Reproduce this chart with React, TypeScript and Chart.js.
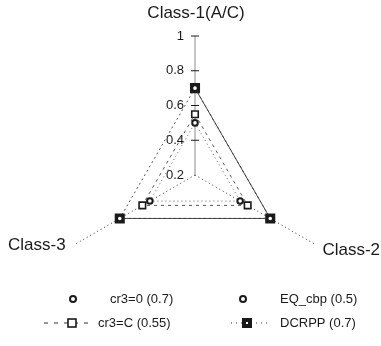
import React, { useEffect, useRef } from 'react';
import { Chart, registerables } from 'chart.js';

Chart.register(...registerables);

const categories = ['Class-1(A/C)', 'Class-2', 'Class-3'];
const cr3Zero = [0.7, 0.7, 0.7];
const eqCbp = [0.5, 0.5, 0.5];
const cr3C = [0.55, 0.55, 0.55];
const dcrpp = [0.7, 0.7, 0.7];
const seriesNames = ['cr3=0 (0.7)', 'EQ_cbp (0.5)', 'cr3=C (0.55)', 'DCRPP (0.7)'];
const tickValues = [0.2, 0.4, 0.6, 0.8, 1];
const tickLabels = ['0.2', '0.4', '0.6', '0.8', '1'];

const FONT = '"Liberation Sans", Arial, Helvetica, sans-serif';
const INK = '#1a1a1a';
const LINE = '#333';

const decorPlugin = {
  id: 'decor',
  beforeDatasetsDraw(chart: any) {
    const ctx = chart.ctx;
    const scale = chart.scales.r;
    ctx.save();
    ctx.strokeStyle = INK;
    ctx.lineWidth = 1;
    ctx.fillStyle = INK;
    ctx.font = `13px ${FONT}`;
    ctx.textAlign = 'right';
    ctx.textBaseline = 'middle';
    tickValues.forEach((v, i) => {
      const p = scale.getPointPositionForValue(0, v);
      if (i > 0) {
        ctx.beginPath();
        ctx.moveTo(p.x - 4, p.y);
        ctx.lineTo(p.x + 4, p.y);
        ctx.stroke();
      }
      ctx.fillText(tickLabels[i], p.x - 11, p.y);
    });
    ctx.font = `17px ${FONT}`;
    const p0 = scale.getPointPositionForValue(0, 1);
    ctx.textAlign = 'center';
    ctx.fillText(categories[0], p0.x + 1, p0.y - 23);
    const p1 = scale.getPointPositionForValue(1, 1);
    ctx.textAlign = 'left';
    ctx.fillText(categories[1], p1.x + 7, p1.y + 6);
    const p2 = scale.getPointPositionForValue(2, 1);
    ctx.textAlign = 'right';
    ctx.fillText(categories[2], p2.x - 9, p2.y + 1);
    ctx.restore();
  },
  beforeDatasetDraw(chart: any, args: any) {
    // cr3=0: open polyline (Class-1 -> Class-2 -> Class-3), no closing side
    if (args.index !== 0) return;
    const pts = chart.getDatasetMeta(0).data;
    const ctx = chart.ctx;
    ctx.save();
    ctx.strokeStyle = LINE;
    ctx.lineWidth = 0.9;
    ctx.beginPath();
    pts.forEach((p: any, i: number) => (i === 0 ? ctx.moveTo(p.x, p.y) : ctx.lineTo(p.x, p.y)));
    ctx.stroke();
    ctx.restore();
  },
  afterDraw(chart: any) {
    const ctx = chart.ctx;
    ctx.save();
    ctx.fillStyle = INK;
    ctx.strokeStyle = INK;
    ctx.font = `13px ${FONT}`;
    ctx.textAlign = 'left';
    ctx.textBaseline = 'middle';
    const y1 = 299;
    const y2 = 323;
    const circle = (x: number, y: number) => {
      ctx.beginPath();
      ctx.lineWidth = 2;
      ctx.fillStyle = '#fff';
      ctx.arc(x, y, 3, 0, Math.PI * 2);
      ctx.fill();
      ctx.stroke();
      ctx.fillStyle = INK;
    };
    circle(73, y1);
    ctx.fillText(seriesNames[0], 110, y1);
    circle(243, y1);
    ctx.fillText(seriesNames[1], 280, y1);
    ctx.lineWidth = 1;
    ctx.strokeStyle = LINE;
    ctx.setLineDash([4, 6]);
    ctx.beginPath();
    ctx.moveTo(44, y2);
    ctx.lineTo(93, y2);
    ctx.stroke();
    ctx.setLineDash([]);
    ctx.strokeStyle = INK;
    ctx.lineWidth = 1.6;
    ctx.fillStyle = '#fff';
    ctx.fillRect(68, y2 - 4, 8, 8);
    ctx.strokeRect(68, y2 - 4, 8, 8);
    ctx.fillStyle = INK;
    ctx.fillText(seriesNames[2], 98, y2);
    ctx.lineWidth = 1;
    ctx.strokeStyle = LINE;
    ctx.setLineDash([1, 4]);
    ctx.beginPath();
    ctx.moveTo(231, y2);
    ctx.lineTo(270, y2);
    ctx.stroke();
    ctx.setLineDash([]);
    ctx.fillStyle = INK;
    ctx.fillRect(242, y2 - 5, 10, 10);
    ctx.fillStyle = '#fff';
    ctx.fillRect(246, y2 - 1, 2, 2);
    ctx.fillStyle = INK;
    ctx.fillText(seriesNames[3], 280, y2);
    ctx.restore();
  },
};

export default function App() {
  const ref = useRef<HTMLCanvasElement | null>(null);
  useEffect(() => {
    if (!ref.current) return;
    const chart = new Chart(ref.current, {
      type: 'radar',
      data: {
        labels: categories,
        datasets: [
          {
            label: seriesNames[0],
            data: cr3Zero,
            showLine: false,
            borderColor: LINE,
            borderWidth: 0,
            backgroundColor: 'transparent',
            fill: false,
            pointStyle: 'circle',
            pointRadius: 2.8,
            pointBorderWidth: 2,
            pointBorderColor: INK,
            pointBackgroundColor: '#fff',
          },
          {
            label: seriesNames[1],
            data: eqCbp,
            borderColor: '#555',
            borderWidth: 0.9,
            borderDash: [1, 3],
            backgroundColor: 'transparent',
            fill: false,
            pointStyle: 'circle',
            pointRadius: 2.8,
            pointBorderWidth: 2,
            pointBorderColor: INK,
            pointBackgroundColor: '#fff',
          },
          {
            label: seriesNames[2],
            data: cr3C,
            borderColor: '#444',
            borderWidth: 0.9,
            borderDash: [3, 4],
            backgroundColor: 'transparent',
            fill: false,
            pointStyle: 'rect',
            pointRadius: 4.6,
            pointBorderWidth: 1.6,
            pointBorderColor: INK,
            pointBackgroundColor: '#fff',
          },
          {
            label: seriesNames[3],
            data: dcrpp,
            borderColor: '#555',
            borderWidth: 1,
            borderDash: [2, 3],
            backgroundColor: 'transparent',
            fill: false,
            pointStyle: 'rect',
            pointRadius: 4.3,
            pointBorderWidth: 4,
            pointBorderColor: INK,
            pointBackgroundColor: '#fff',
          },
        ],
      },
      options: {
        responsive: false,
        animation: false,
        layout: { padding: { left: 56, right: 47, top: 36, bottom: 32 } },
        elements: { line: { tension: 0 } },
        plugins: {
          legend: { display: false },
          tooltip: { enabled: false },
        },
        scales: {
          r: {
            min: 0.2,
            max: 1,
            grid: { display: false },
            ticks: { display: false, stepSize: 0.2 },
            pointLabels: { display: false },
            angleLines: {
              display: true,
              color: (c: any) => (c.index === 0 ? '#8a8a8a' : '#333'),
              lineWidth: 1,
              borderDash: (c: any) => (c.index === 0 ? [] : [1, 3]),
            },
          },
        },
      },
      plugins: [decorPlugin],
    } as any);
    return () => chart.destroy();
  }, []);
  return (
    <div style={{ position: 'fixed', left: 0, top: 0, width: 381, height: 346, background: '#fff' }}>
      <canvas ref={ref} width={381} height={346} style={{ display: 'block' }} />
    </div>
  );
}
